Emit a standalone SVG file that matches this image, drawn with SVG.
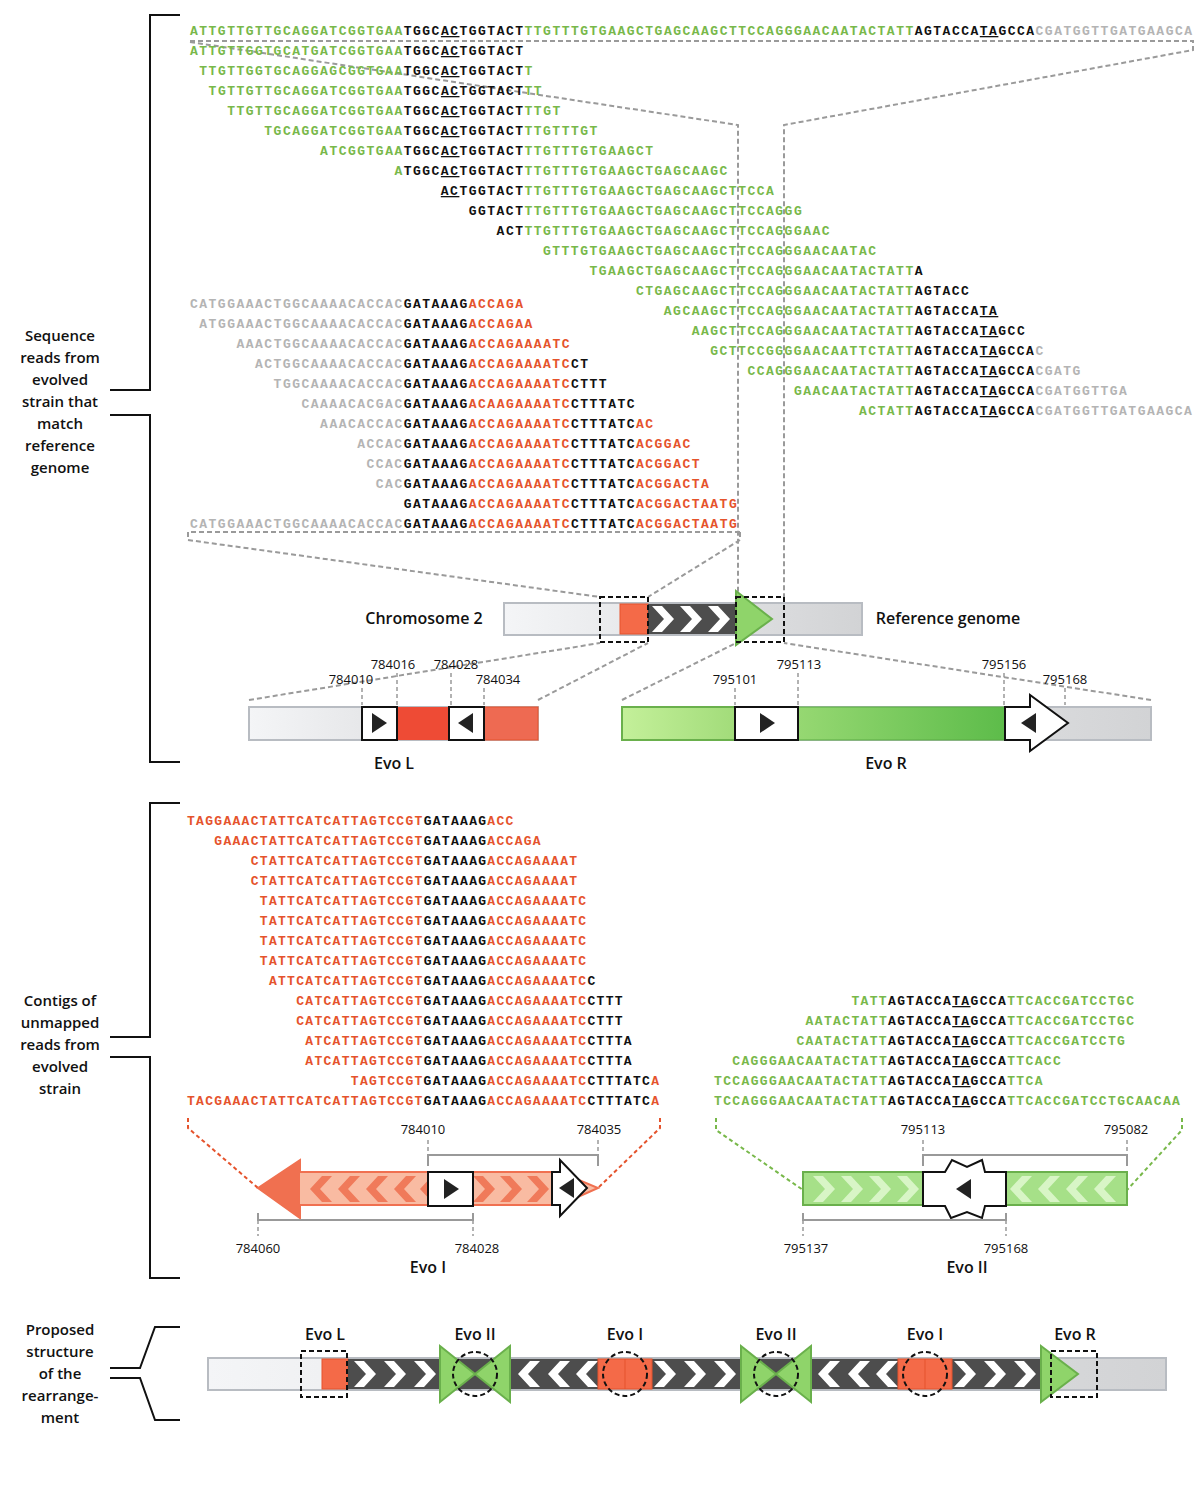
<svg xmlns="http://www.w3.org/2000/svg" xmlns:xlink="http://www.w3.org/1999/xlink" width="1200" height="1500" viewBox="0 0 1200 1500">
<defs>
<style>
.sq{font-family:"Liberation Mono",monospace;font-weight:bold;font-size:13px}
.a{letter-spacing:1.49px}.c{letter-spacing:1.3px}.d{letter-spacing:1.36px}
.g{fill:#78b84a}.k{fill:#111}.r{fill:#e5532c}.y{fill:#b4b4b4}
.u{text-decoration:underline}
.lb{font-family:"Open Sans","Liberation Sans",sans-serif;font-weight:600;font-size:15px;fill:#111;text-anchor:middle}
.ev{font-size:16px}
.nm{font-family:"Open Sans","Liberation Sans",sans-serif;font-size:13px;fill:#111;text-anchor:middle}
.br{fill:none;stroke:#111;stroke-width:2}
.gd{fill:none;stroke:#9a9a9a;stroke-width:2;stroke-dasharray:5,3}
.tk{fill:none;stroke:#999;stroke-width:1.5;stroke-dasharray:4,3}
.bx{fill:none;stroke:#111;stroke-width:2;stroke-dasharray:5,3}
.bk{fill:none;stroke:#999;stroke-width:2}
.wb{fill:#fff;stroke:#111;stroke-width:2}
</style>
<linearGradient id="gry" x1="0" x2="1"><stop offset="0" stop-color="#f4f5f7"/><stop offset="1" stop-color="#d2d3d5"/></linearGradient>
<linearGradient id="grn1" x1="0" x2="1"><stop offset="0" stop-color="#c4f09a"/><stop offset="1" stop-color="#a2dc7a"/></linearGradient>
<linearGradient id="grn2" x1="0" x2="1"><stop offset="0" stop-color="#96d872"/><stop offset="1" stop-color="#5dbc4a"/></linearGradient>
<path id="cr" d="M0,-13 L10,-13 L22,0 L10,13 L0,13 L12,0 Z"/>
<path id="cl" d="M0,-13 L-10,-13 L-22,0 L-10,13 L0,13 L-12,0 Z"/>
<path id="tr" d="M-7,-10 L8,0 L-7,10 Z" fill="#222"/>
<path id="tl" d="M7,-10 L-8,0 L7,10 Z" fill="#222"/>
</defs>

<g id="braces">
<polyline class="br" points="180,15 150,15 150,390 110,390"/>
<polyline class="br" points="110,415 150,415 150,762 180,762"/>
<polyline class="br" points="180,803 150,803 150,1037 110,1037"/>
<polyline class="br" points="110,1057 150,1057 150,1278 180,1278"/>
<path class="br" d="M180,1327 L155,1327 L140,1368 L110,1368 M110,1378 L140,1378 L155,1420 L180,1420"/>
</g>
<g id="labels">
<text class="lb" x="60" y="341">Sequence</text><text class="lb" x="60" y="363">reads from</text><text class="lb" x="60" y="385">evolved</text><text class="lb" x="60" y="407">strain that</text><text class="lb" x="60" y="429">match</text><text class="lb" x="60" y="451">reference</text><text class="lb" x="60" y="473">genome</text>
<text class="lb" x="60" y="1006">Contigs of</text><text class="lb" x="60" y="1028">unmapped</text><text class="lb" x="60" y="1050">reads from</text><text class="lb" x="60" y="1072">evolved</text><text class="lb" x="60" y="1094">strain</text>
<text class="lb" x="60" y="1335">Proposed</text><text class="lb" x="60" y="1357">structure</text><text class="lb" x="60" y="1379">of the</text><text class="lb" x="60" y="1401">rearrange-</text><text class="lb" x="60" y="1423">ment</text>
</g>

<g id="connectors">
<polyline class="gd" points="190,41 1193,41 1193,50 784,125 784,597"/>
<polyline class="gd" points="190,42 738,125 738,597"/>
<polyline class="gd" points="740,532 188,532 188,540 600,597"/>
<polyline class="gd" points="740,532 740,540 648,597"/>
<line class="gd" x1="249" y1="700" x2="600" y2="643"/>
<line class="gd" x1="538" y1="700" x2="648" y2="643"/>
<line class="gd" x1="622" y1="700" x2="736" y2="643"/>
<line class="gd" x1="1151" y1="700" x2="784" y2="643"/>
<polyline fill="none" stroke="#e5532c" stroke-width="2" stroke-dasharray="4,3" points="188,1118 188,1128 258,1188"/>
<polyline fill="none" stroke="#e5532c" stroke-width="2" stroke-dasharray="4,3" points="660,1118 660,1128 598,1188"/>
<polyline fill="none" stroke="#78b84a" stroke-width="2" stroke-dasharray="4,3" points="716,1118 716,1130 803,1190"/>
<polyline fill="none" stroke="#78b84a" stroke-width="2" stroke-dasharray="4,3" points="1182,1118 1182,1130 1127,1190"/>
</g>

<g id="reads-top" class="sq a">
<text x="190" y="35"><tspan class="g">ATTGTTGTTGCAGGATCGGTGAA</tspan><tspan class="k">TGGC</tspan><tspan class="k u">AC</tspan><tspan class="k">TGGTACT</tspan><tspan class="g">TTGTTTGTGAAGCTGAGCAAGCTTCCAGGGAACAATACTATT</tspan><tspan class="k">AGTACCA</tspan><tspan class="k u">TA</tspan><tspan class="k">GCCA</tspan><tspan class="y">CGATGGTTGATGAAGCA</tspan></text>
<text x="190" y="55"><tspan class="g">ATTGTTGGTGCATGATCGGTGAA</tspan><tspan class="k">TGGC</tspan><tspan class="k u">AC</tspan><tspan class="k">TGGTACT</tspan></text>
<text x="199.3" y="75"><tspan class="g">TTGTTGGTGCAGGAGCGGTGAA</tspan><tspan class="k">TGGC</tspan><tspan class="k u">AC</tspan><tspan class="k">TGGTACT</tspan><tspan class="g">T</tspan></text>
<text x="208.6" y="95"><tspan class="g">TGTTGTTGCAGGATCGGTGAA</tspan><tspan class="k">TGGC</tspan><tspan class="k u">AC</tspan><tspan class="k">TGGTACT</tspan><tspan class="g">TT</tspan></text>
<text x="227.2" y="115"><tspan class="g">TTGTTGCAGGATCGGTGAA</tspan><tspan class="k">TGGC</tspan><tspan class="k u">AC</tspan><tspan class="k">TGGTACT</tspan><tspan class="g">TTGT</tspan></text>
<text x="264.3" y="135"><tspan class="g">TGCAGGATCGGTGAA</tspan><tspan class="k">TGGC</tspan><tspan class="k u">AC</tspan><tspan class="k">TGGTACT</tspan><tspan class="g">TTGTTTGT</tspan></text>
<text x="320.1" y="155"><tspan class="g">ATCGGTGAA</tspan><tspan class="k">TGGC</tspan><tspan class="k u">AC</tspan><tspan class="k">TGGTACT</tspan><tspan class="g">TTGTTTGTGAAGCT</tspan></text>
<text x="394.4" y="175"><tspan class="g">A</tspan><tspan class="k">TGGC</tspan><tspan class="k u">AC</tspan><tspan class="k">TGGTACT</tspan><tspan class="g">TTGTTTGTGAAGCTGAGCAAGC</tspan></text>
<text x="440.8" y="195"><tspan class="k u">AC</tspan><tspan class="k">TGGTACT</tspan><tspan class="g">TTGTTTGTGAAGCTGAGCAAGCTTCCA</tspan></text>
<text x="468.7" y="215"><tspan class="k">GGTACT</tspan><tspan class="g">TTGTTTGTGAAGCTGAGCAAGCTTCCAGGG</tspan></text>
<text x="496.6" y="235"><tspan class="k">ACT</tspan><tspan class="g">TTGTTTGTGAAGCTGAGCAAGCTTCCAGGGAAC</tspan></text>
<text x="543" y="255"><tspan class="g">GTTTGTGAAGCTGAGCAAGCTTCCAGGGAACAATAC</tspan></text>
<text x="589.5" y="275"><tspan class="g">TGAAGCTGAGCAAGCTTCCAGGGAACAATACTATT</tspan><tspan class="k">A</tspan></text>
<text x="635.9" y="295"><tspan class="g">CTGAGCAAGCTTCCAGGGAACAATACTATT</tspan><tspan class="k">AGTACC</tspan></text>
<text x="663.8" y="315"><tspan class="g">AGCAAGCTTCCAGGGAACAATACTATT</tspan><tspan class="k">AGTACCA</tspan><tspan class="k u">TA</tspan></text>
<text x="691.7" y="335"><tspan class="g">AAGCTTCCAGGGAACAATACTATT</tspan><tspan class="k">AGTACCA</tspan><tspan class="k u">TA</tspan><tspan class="k">GCC</tspan></text>
<text x="710.2" y="355"><tspan class="g">GCTTCCGGGGAACAATTCTATT</tspan><tspan class="k">AGTACCA</tspan><tspan class="k u">TA</tspan><tspan class="k">GCCA</tspan><tspan class="y">C</tspan></text>
<text x="747.4" y="375"><tspan class="g">CCAGGGAACAATACTATT</tspan><tspan class="k">AGTACCA</tspan><tspan class="k u">TA</tspan><tspan class="k">GCCA</tspan><tspan class="y">CGATG</tspan></text>
<text x="793.9" y="395"><tspan class="g">GAACAATACTATT</tspan><tspan class="k">AGTACCA</tspan><tspan class="k u">TA</tspan><tspan class="k">GCCA</tspan><tspan class="y">CGATGGTTGA</tspan></text>
<text x="858.9" y="415"><tspan class="g">ACTATT</tspan><tspan class="k">AGTACCA</tspan><tspan class="k u">TA</tspan><tspan class="k">GCCA</tspan><tspan class="y">CGATGGTTGATGAAGCA</tspan></text>
</g>

<g id="reads-left" class="sq a">
<text x="190" y="308"><tspan class="y">CATGGAAACTGGCAAAACACCAC</tspan><tspan class="k">GATAAAG</tspan><tspan class="r">ACCAGA</tspan></text>
<text x="199.3" y="328"><tspan class="y">ATGGAAACTGGCAAAACACCAC</tspan><tspan class="k">GATAAAG</tspan><tspan class="r">ACCAGAA</tspan></text>
<text x="236.5" y="348"><tspan class="y">AAACTGGCAAAACACCAC</tspan><tspan class="k">GATAAAG</tspan><tspan class="r">ACCAGAAAATC</tspan></text>
<text x="255" y="368"><tspan class="y">ACTGGCAAAACACCAC</tspan><tspan class="k">GATAAAG</tspan><tspan class="r">ACCAGAAAATC</tspan><tspan class="k">CT</tspan></text>
<text x="273.6" y="388"><tspan class="y">TGGCAAAACACCAC</tspan><tspan class="k">GATAAAG</tspan><tspan class="r">ACCAGAAAATC</tspan><tspan class="k">CTTT</tspan></text>
<text x="301.5" y="408"><tspan class="y">CAAAACACGAC</tspan><tspan class="k">GATAAAG</tspan><tspan class="r">ACAAGAAAATC</tspan><tspan class="k">CTTTATC</tspan></text>
<text x="320.1" y="428"><tspan class="y">AAACACCAC</tspan><tspan class="k">GATAAAG</tspan><tspan class="r">ACCAGAAAATC</tspan><tspan class="k">CTTTATC</tspan><tspan class="r">AC</tspan></text>
<text x="357.2" y="448"><tspan class="y">ACCAC</tspan><tspan class="k">GATAAAG</tspan><tspan class="r">ACCAGAAAATC</tspan><tspan class="k">CTTTATC</tspan><tspan class="r">ACGGAC</tspan></text>
<text x="366.5" y="468"><tspan class="y">CCAC</tspan><tspan class="k">GATAAAG</tspan><tspan class="r">ACCAGAAAATC</tspan><tspan class="k">CTTTATC</tspan><tspan class="r">ACGGACT</tspan></text>
<text x="375.8" y="488"><tspan class="y">CAC</tspan><tspan class="k">GATAAAG</tspan><tspan class="r">ACCAGAAAATC</tspan><tspan class="k">CTTTATC</tspan><tspan class="r">ACGGACTA</tspan></text>
<text x="403.7" y="508"><tspan class="k">GATAAAG</tspan><tspan class="r">ACCAGAAAATC</tspan><tspan class="k">CTTTATC</tspan><tspan class="r">ACGGACTAATG</tspan></text>
<text x="190" y="528"><tspan class="y">CATGGAAACTGGCAAAACACCAC</tspan><tspan class="k">GATAAAG</tspan><tspan class="r">ACCAGAAAATC</tspan><tspan class="k">CTTTATC</tspan><tspan class="r">ACGGACTAATG</tspan></text>
</g>

<g id="chromosome2">
<rect x="504" y="603" width="358" height="32" fill="url(#gry)" stroke="#b8bcc2" stroke-width="2"/>
<rect x="620" y="604" width="28" height="30" fill="#f46a48" stroke="#e5532c"/>
<rect x="648" y="604" width="90" height="30" fill="#4d4d4d"/>
<use xlink:href="#cr" x="652" y="619" fill="#fff"/><use xlink:href="#cr" x="680" y="619" fill="#fff"/><use xlink:href="#cr" x="708" y="619" fill="#fff"/>
<path d="M736,591 L772,619 L736,645 Z" fill="#8fd46a" stroke="#6ab04c" stroke-width="2"/>
<rect class="bx" x="600" y="597" width="48" height="45"/>
<rect class="bx" x="736" y="597" width="48" height="45"/>
<text class="lb ev" x="424" y="624">Chromosome 2</text>
<text class="lb ev" x="948" y="624">Reference genome</text>
</g>

<g id="evoL">
<rect x="249" y="707" width="289" height="33" fill="url(#gry)" stroke="#b8bcc2" stroke-width="2"/>
<rect x="397" y="707" width="52" height="33" fill="#ee4b35"/>
<rect x="484" y="707" width="54" height="33" fill="#ee6a52" stroke="#e5532c"/>
<rect class="wb" x="362" y="707" width="35" height="33"/><use xlink:href="#tr" x="379" y="723"/>
<rect class="wb" x="449" y="707" width="35" height="33"/><use xlink:href="#tl" x="466" y="723"/>
<line class="tk" x1="362" y1="688" x2="362" y2="705"/><line class="tk" x1="397" y1="673" x2="397" y2="705"/>
<line class="tk" x1="451" y1="673" x2="451" y2="705"/><line class="tk" x1="484" y1="688" x2="484" y2="705"/>
<text class="nm" x="351" y="684">784010</text><text class="nm" x="393" y="669">784016</text>
<text class="nm" x="456" y="669">784028</text><text class="nm" x="498" y="684">784034</text>
<text class="lb ev" x="394" y="769">Evo L</text>
</g>

<g id="evoR">
<rect x="622" y="707" width="529" height="33" fill="url(#gry)" stroke="#b8bcc2" stroke-width="2"/>
<rect x="622" y="707" width="113" height="33" fill="url(#grn1)" stroke="#6ab04c" stroke-width="2"/>
<rect x="798" y="707" width="207" height="33" fill="url(#grn2)" stroke="#5aab44" stroke-width="1"/>
<rect class="wb" x="735" y="707" width="63" height="33"/><use xlink:href="#tr" x="767" y="723"/>
<path class="wb" d="M1005,707 L1030,707 L1030,695 L1068,723 L1030,751 L1030,740 L1005,740 Z"/><use xlink:href="#tl" x="1029" y="723"/>
<line class="tk" x1="735" y1="688" x2="735" y2="705"/><line class="tk" x1="798" y1="673" x2="798" y2="705"/>
<line class="tk" x1="1004" y1="673" x2="1004" y2="705"/><line class="tk" x1="1065" y1="688" x2="1065" y2="705"/>
<text class="nm" x="735" y="684">795101</text><text class="nm" x="799" y="669">795113</text>
<text class="nm" x="1004" y="669">795156</text><text class="nm" x="1065" y="684">795168</text>
<text class="lb ev" x="886" y="769">Evo R</text>
</g>

<g id="contigs-red" class="sq c">
<text x="187" y="825"><tspan class="r">TAGGAAACTATTCATCATTAGTCCGT</tspan><tspan class="k">GATAAAG</tspan><tspan class="r">ACC</tspan></text>
<text x="214.3" y="845"><tspan class="r">GAAACTATTCATCATTAGTCCGT</tspan><tspan class="k">GATAAAG</tspan><tspan class="r">ACCAGA</tspan></text>
<text x="250.7" y="865"><tspan class="r">CTATTCATCATTAGTCCGT</tspan><tspan class="k">GATAAAG</tspan><tspan class="r">ACCAGAAAAT</tspan></text>
<text x="250.7" y="885"><tspan class="r">CTATTCATCATTAGTCCGT</tspan><tspan class="k">GATAAAG</tspan><tspan class="r">ACCAGAAAAT</tspan></text>
<text x="259.8" y="905"><tspan class="r">TATTCATCATTAGTCCGT</tspan><tspan class="k">GATAAAG</tspan><tspan class="r">ACCAGAAAATC</tspan></text>
<text x="259.8" y="925"><tspan class="r">TATTCATCATTAGTCCGT</tspan><tspan class="k">GATAAAG</tspan><tspan class="r">ACCAGAAAATC</tspan></text>
<text x="259.8" y="945"><tspan class="r">TATTCATCATTAGTCCGT</tspan><tspan class="k">GATAAAG</tspan><tspan class="r">ACCAGAAAATC</tspan></text>
<text x="259.8" y="965"><tspan class="r">TATTCATCATTAGTCCGT</tspan><tspan class="k">GATAAAG</tspan><tspan class="r">ACCAGAAAATC</tspan></text>
<text x="268.9" y="985"><tspan class="r">ATTCATCATTAGTCCGT</tspan><tspan class="k">GATAAAG</tspan><tspan class="r">ACCAGAAAATC</tspan><tspan class="k">C</tspan></text>
<text x="296.2" y="1005"><tspan class="r">CATCATTAGTCCGT</tspan><tspan class="k">GATAAAG</tspan><tspan class="r">ACCAGAAAATC</tspan><tspan class="k">CTTT</tspan></text>
<text x="296.2" y="1025"><tspan class="r">CATCATTAGTCCGT</tspan><tspan class="k">GATAAAG</tspan><tspan class="r">ACCAGAAAATC</tspan><tspan class="k">CTTT</tspan></text>
<text x="305.3" y="1045"><tspan class="r">ATCATTAGTCCGT</tspan><tspan class="k">GATAAAG</tspan><tspan class="r">ACCAGAAAATC</tspan><tspan class="k">CTTTA</tspan></text>
<text x="305.3" y="1065"><tspan class="r">ATCATTAGTCCGT</tspan><tspan class="k">GATAAAG</tspan><tspan class="r">ACCAGAAAATC</tspan><tspan class="k">CTTTA</tspan></text>
<text x="350.8" y="1085"><tspan class="r">TAGTCCGT</tspan><tspan class="k">GATAAAG</tspan><tspan class="r">ACCAGAAAATC</tspan><tspan class="k">CTTTATC</tspan><tspan class="r">A</tspan></text>
<text x="187" y="1105"><tspan class="r">TACGAAACTATTCATCATTAGTCCGT</tspan><tspan class="k">GATAAAG</tspan><tspan class="r">ACCAGAAAATC</tspan><tspan class="k">CTTTATC</tspan><tspan class="r">A</tspan></text>
</g>

<g id="contigs-green" class="sq d">
<text x="851.4" y="1005"><tspan class="g">TATT</tspan><tspan class="k">AGTACCA</tspan><tspan class="k u">TA</tspan><tspan class="k">GCCA</tspan><tspan class="g">TTCACCGATCCTGC</tspan></text>
<text x="805.6" y="1025"><tspan class="g">AATACTATT</tspan><tspan class="k">AGTACCA</tspan><tspan class="k u">TA</tspan><tspan class="k">GCCA</tspan><tspan class="g">TTCACCGATCCTGC</tspan></text>
<text x="796.4" y="1045"><tspan class="g">CAATACTATT</tspan><tspan class="k">AGTACCA</tspan><tspan class="k u">TA</tspan><tspan class="k">GCCA</tspan><tspan class="g">TTCACCGATCCTG</tspan></text>
<text x="732.3" y="1065"><tspan class="g">CAGGGAACAATACTATT</tspan><tspan class="k">AGTACCA</tspan><tspan class="k u">TA</tspan><tspan class="k">GCCA</tspan><tspan class="g">TTCACC</tspan></text>
<text x="714" y="1085"><tspan class="g">TCCAGGGAACAATACTATT</tspan><tspan class="k">AGTACCA</tspan><tspan class="k u">TA</tspan><tspan class="k">GCCA</tspan><tspan class="g">TTCA</tspan></text>
<text x="714" y="1105"><tspan class="g">TCCAGGGAACAATACTATT</tspan><tspan class="k">AGTACCA</tspan><tspan class="k u">TA</tspan><tspan class="k">GCCA</tspan><tspan class="g">TTCACCGATCCTGCAACAA</tspan></text>
</g>

<g id="evoI">
<path d="M258,1188 L300,1160 L300,1172 L560,1172 L598,1188 L560,1205 L300,1205 L300,1218 Z" fill="#f9bba2" stroke="#f07050" stroke-width="2"/>
<path d="M258,1188 L300,1160 L300,1218 Z" fill="#f07050"/>
<use xlink:href="#cl" x="332" y="1189" fill="#f07a5a"/><use xlink:href="#cl" x="360" y="1189" fill="#f07a5a"/><use xlink:href="#cl" x="388" y="1189" fill="#f07a5a"/><use xlink:href="#cl" x="416" y="1189" fill="#f07a5a"/><use xlink:href="#cl" x="442" y="1189" fill="#f07a5a"/>
<use xlink:href="#cr" x="473" y="1189" fill="#f07a5a"/><use xlink:href="#cr" x="500" y="1189" fill="#f07a5a"/><use xlink:href="#cr" x="527" y="1189" fill="#f07a5a"/>
<rect class="wb" x="428" y="1172" width="45" height="34"/><use xlink:href="#tr" x="451" y="1189"/>
<path class="wb" d="M552,1172 L560,1172 L560,1160 L587,1188 L560,1216 L560,1205 L552,1205 Z"/><use xlink:href="#tl" x="567" y="1188"/>
<polyline class="bk" points="428,1166 428,1155 598,1155 598,1166"/>
<polyline class="bk" points="258,1213 258,1220 473,1220 473,1213"/>
<line class="tk" x1="428" y1="1140" x2="428" y2="1155"/><line class="tk" x1="598" y1="1140" x2="598" y2="1155"/>
<line class="tk" x1="258" y1="1220" x2="258" y2="1236"/><line class="tk" x1="473" y1="1220" x2="473" y2="1236"/>
<text class="nm" x="423" y="1134">784010</text><text class="nm" x="599" y="1134">784035</text>
<text class="nm" x="258" y="1253">784060</text><text class="nm" x="477" y="1253">784028</text>
<text class="lb ev" x="428" y="1273">Evo I</text>
</g>

<g id="evoII">
<rect x="803" y="1172" width="324" height="33" fill="#a6e088" stroke="#6ab04c" stroke-width="2"/>
<use xlink:href="#cr" x="813" y="1189" fill="#d8f5c6"/><use xlink:href="#cr" x="841" y="1189" fill="#d8f5c6"/><use xlink:href="#cr" x="869" y="1189" fill="#d8f5c6"/><use xlink:href="#cr" x="897" y="1189" fill="#d8f5c6"/>
<use xlink:href="#cl" x="1032" y="1189" fill="#d8f5c6"/><use xlink:href="#cl" x="1060" y="1189" fill="#d8f5c6"/><use xlink:href="#cl" x="1088" y="1189" fill="#d8f5c6"/><use xlink:href="#cl" x="1116" y="1189" fill="#d8f5c6"/>
<path class="wb" d="M923,1172 L945,1172 L952,1160 L967,1167 L982,1160 L985,1172 L1006,1172 L1006,1206 L985,1206 L982,1218 L967,1212 L951,1218 L945,1206 L923,1206 Z"/>
<use xlink:href="#tl" x="964" y="1189"/>
<polyline class="bk" points="923,1166 923,1155 1127,1155 1127,1166"/>
<polyline class="bk" points="803,1213 803,1220 1006,1220 1006,1213"/>
<line class="tk" x1="923" y1="1140" x2="923" y2="1155"/><line class="tk" x1="1127" y1="1140" x2="1127" y2="1155"/>
<line class="tk" x1="803" y1="1220" x2="803" y2="1236"/><line class="tk" x1="1006" y1="1220" x2="1006" y2="1236"/>
<text class="nm" x="923" y="1134">795113</text><text class="nm" x="1126" y="1134">795082</text>
<text class="nm" x="806" y="1253">795137</text><text class="nm" x="1006" y="1253">795168</text>
<text class="lb ev" x="967" y="1273">Evo II</text>
</g>

<g id="proposed">
<rect x="208" y="1358" width="958" height="32" fill="url(#gry)" stroke="#b8bcc2" stroke-width="2"/>
<rect x="322" y="1359" width="26" height="30" fill="#f46a48" stroke="#e5532c"/>
<rect x="348" y="1359" width="702" height="30" fill="#4d4d4d"/>
<use xlink:href="#cr" x="354" y="1374" fill="#fff"/><use xlink:href="#cr" x="384" y="1374" fill="#fff"/><use xlink:href="#cr" x="414" y="1374" fill="#fff"/>
<use xlink:href="#cl" x="540" y="1374" fill="#fff"/><use xlink:href="#cl" x="570" y="1374" fill="#fff"/><use xlink:href="#cl" x="598" y="1374" fill="#fff"/>
<use xlink:href="#cr" x="654" y="1374" fill="#fff"/><use xlink:href="#cr" x="684" y="1374" fill="#fff"/><use xlink:href="#cr" x="714" y="1374" fill="#fff"/>
<use xlink:href="#cl" x="840" y="1374" fill="#fff"/><use xlink:href="#cl" x="870" y="1374" fill="#fff"/><use xlink:href="#cl" x="898" y="1374" fill="#fff"/>
<use xlink:href="#cr" x="954" y="1374" fill="#fff"/><use xlink:href="#cr" x="984" y="1374" fill="#fff"/><use xlink:href="#cr" x="1014" y="1374" fill="#fff"/>
<rect x="598" y="1359" width="54" height="30" fill="#f46a48" stroke="#e5532c"/><line x1="625" y1="1359" x2="625" y2="1389" stroke="#e5532c"/>
<rect x="898" y="1359" width="54" height="30" fill="#f46a48" stroke="#e5532c"/><line x1="925" y1="1359" x2="925" y2="1389" stroke="#e5532c"/>
<path d="M440,1346 L475,1374 L440,1402 Z M510,1346 L475,1374 L510,1402 Z" fill="#8fd46a" stroke="#6ab04c" stroke-width="2"/>
<path d="M741,1346 L776,1374 L741,1402 Z M811,1346 L776,1374 L811,1402 Z" fill="#8fd46a" stroke="#6ab04c" stroke-width="2"/>
<path d="M1041,1346 L1078,1374 L1041,1402 Z" fill="#8fd46a" stroke="#6ab04c" stroke-width="2"/>
<rect class="bx" x="301" y="1351" width="46" height="46"/>
<rect class="bx" x="1051" y="1351" width="46" height="46"/>
<circle class="bx" cx="475" cy="1374" r="22"/><circle class="bx" cx="625" cy="1374" r="22"/>
<circle class="bx" cx="776" cy="1374" r="22"/><circle class="bx" cx="925" cy="1374" r="22"/>
<text class="lb ev" x="325" y="1340">Evo L</text><text class="lb ev" x="475" y="1340">Evo II</text>
<text class="lb ev" x="625" y="1340">Evo I</text><text class="lb ev" x="776" y="1340">Evo II</text>
<text class="lb ev" x="925" y="1340">Evo I</text><text class="lb ev" x="1075" y="1340">Evo R</text>
</g>
</svg>
